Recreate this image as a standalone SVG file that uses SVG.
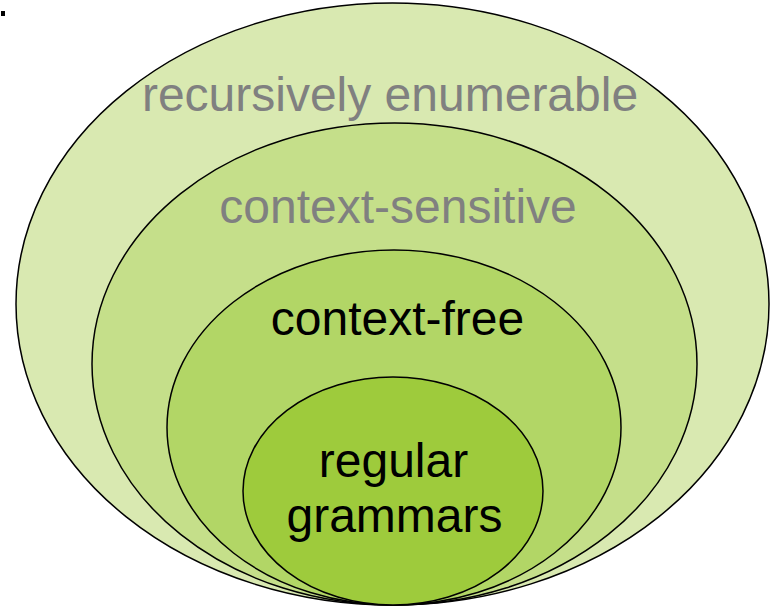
<svg xmlns="http://www.w3.org/2000/svg" width="774" height="608" viewBox="0 0 774 608">
<style>
.e{stroke:#000;stroke-width:1.5}
.t{font-family:"Liberation Sans",Arial,sans-serif;font-size:48px;text-anchor:middle}
.g{fill:#808080}
.k{fill:#000}
</style>
<rect width="774" height="608" fill="#fff"/>
<rect x="1" y="11" width="4" height="5" fill="#000"/>
<g id="recursively-enumerable">
<ellipse class="e" cx="392.5" cy="304" rx="376.5" ry="301" fill="#d9e9b1"/>
<text class="t g" x="390" y="111">recursively enumerable</text>
</g>
<g id="context-sensitive">
<ellipse class="e" cx="394.5" cy="364" rx="302.5" ry="241" fill="#c5df8a"/>
<text class="t g" x="398" y="223">context-sensitive</text>
</g>
<g id="context-free">
<ellipse class="e" cx="394" cy="427.5" rx="227" ry="177.5" fill="#b2d666"/>
<text class="t k" x="397.5" y="335">context-free</text>
</g>
<g id="regular-grammars">
<ellipse class="e" cx="393" cy="491" rx="150" ry="114" fill="#9ecb3c"/>
<text class="t k" x="393.5" y="477">regular</text>
<text class="t k" x="394.5" y="532">grammars</text>
</g>
<g id="connectors"/>
</svg>
